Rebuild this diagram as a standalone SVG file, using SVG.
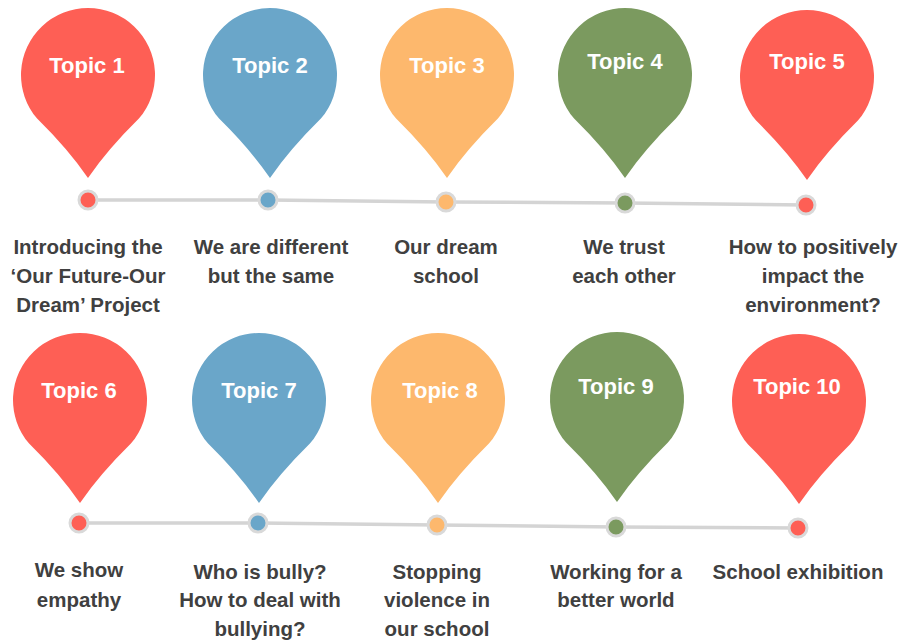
<svg xmlns="http://www.w3.org/2000/svg" xmlns:xlink="http://www.w3.org/1999/xlink" width="907" height="644" viewBox="0 0 907 644">
<style>
.red{fill:#FE5F55}.blue{fill:#6AA6C9}.orange{fill:#FDB86D}.green{fill:#7B9A5F}
.pt{font-family:"Liberation Sans",Arial,sans-serif;font-weight:bold;font-size:22px;fill:#ffffff;text-anchor:middle}
.lb{font-family:"Liberation Sans",Arial,sans-serif;font-weight:bold;font-size:20.5px;fill:#404040;text-anchor:middle}
.dot{stroke:#D9D9D9;stroke-width:3}
.line{fill:none;stroke:#D4D4D4;stroke-width:3.5;stroke-linejoin:round}
</style>
<defs>
<path id="pin" d="M0,103 Q-20,74 -50.9,43.6 A67,67 0 1 1 50.9,43.6 Q20,74 0,103 Z"/>
</defs>
<rect width="907" height="644" fill="#ffffff"/>
<g id="connectors">
<polyline class="line" points="88,200 268,200 446,202 625,203 806,205"/>
<polyline class="line" points="79,523 258,523 437,525 616,527 798,528"/>
</g>
<g id="topic1"><use xlink:href="#pin" class="red" transform="translate(88,75)"/><text class="pt" x="87" y="73">Topic 1</text><circle class="dot red" cx="88" cy="200" r="9"/><text class="lb" x="88" y="254">Introducing the</text><text class="lb" x="88" y="283">‘Our Future-Our</text><text class="lb" x="88" y="312">Dream’ Project</text></g>
<g id="topic2"><use xlink:href="#pin" class="blue" transform="translate(270,75)"/><text class="pt" x="270" y="73">Topic 2</text><circle class="dot blue" cx="268" cy="200" r="9"/><text class="lb" x="271" y="254">We are different</text><text class="lb" x="271" y="283">but the same</text></g>
<g id="topic3"><use xlink:href="#pin" class="orange" transform="translate(447,75)"/><text class="pt" x="447" y="73">Topic 3</text><circle class="dot orange" cx="446" cy="202" r="9"/><text class="lb" x="446" y="254">Our dream</text><text class="lb" x="446" y="283">school</text></g>
<g id="topic4"><use xlink:href="#pin" class="green" transform="translate(625,75)"/><text class="pt" x="625" y="69">Topic 4</text><circle class="dot green" cx="625" cy="203" r="9"/><text class="lb" x="624" y="254">We trust</text><text class="lb" x="624" y="283">each other</text></g>
<g id="topic5"><use xlink:href="#pin" class="red" transform="translate(807,77)"/><text class="pt" x="807" y="69">Topic 5</text><circle class="dot red" cx="806" cy="205" r="9"/><text class="lb" x="813" y="254">How to positively</text><text class="lb" x="813" y="283">impact the</text><text class="lb" x="813" y="312">environment?</text></g>
<g id="topic6"><use xlink:href="#pin" class="red" transform="translate(80,400)"/><text class="pt" x="79" y="398">Topic 6</text><circle class="dot red" cx="79" cy="523" r="9"/><text class="lb" x="79" y="577">We show</text><text class="lb" x="79" y="607">empathy</text></g>
<g id="topic7"><use xlink:href="#pin" class="blue" transform="translate(259,400)"/><text class="pt" x="259" y="398">Topic 7</text><circle class="dot blue" cx="258" cy="523" r="9"/><text class="lb" x="260" y="579">Who is bully?</text><text class="lb" x="260" y="607">How to deal with</text><text class="lb" x="260" y="636">bullying?</text></g>
<g id="topic8"><use xlink:href="#pin" class="orange" transform="translate(438,400)"/><text class="pt" x="440" y="398">Topic 8</text><circle class="dot orange" cx="437" cy="525" r="9"/><text class="lb" x="437" y="579">Stopping</text><text class="lb" x="437" y="607">violence in</text><text class="lb" x="437" y="636">our school</text></g>
<g id="topic9"><use xlink:href="#pin" class="green" transform="translate(617,399)"/><text class="pt" x="616" y="394">Topic 9</text><circle class="dot green" cx="616" cy="527" r="9"/><text class="lb" x="616" y="579">Working for a</text><text class="lb" x="616" y="607">better world</text></g>
<g id="topic10"><use xlink:href="#pin" class="red" transform="translate(799,401)"/><text class="pt" x="797" y="394">Topic 10</text><circle class="dot red" cx="798" cy="528" r="9"/><text class="lb" x="798" y="579">School exhibition</text></g>
</svg>
